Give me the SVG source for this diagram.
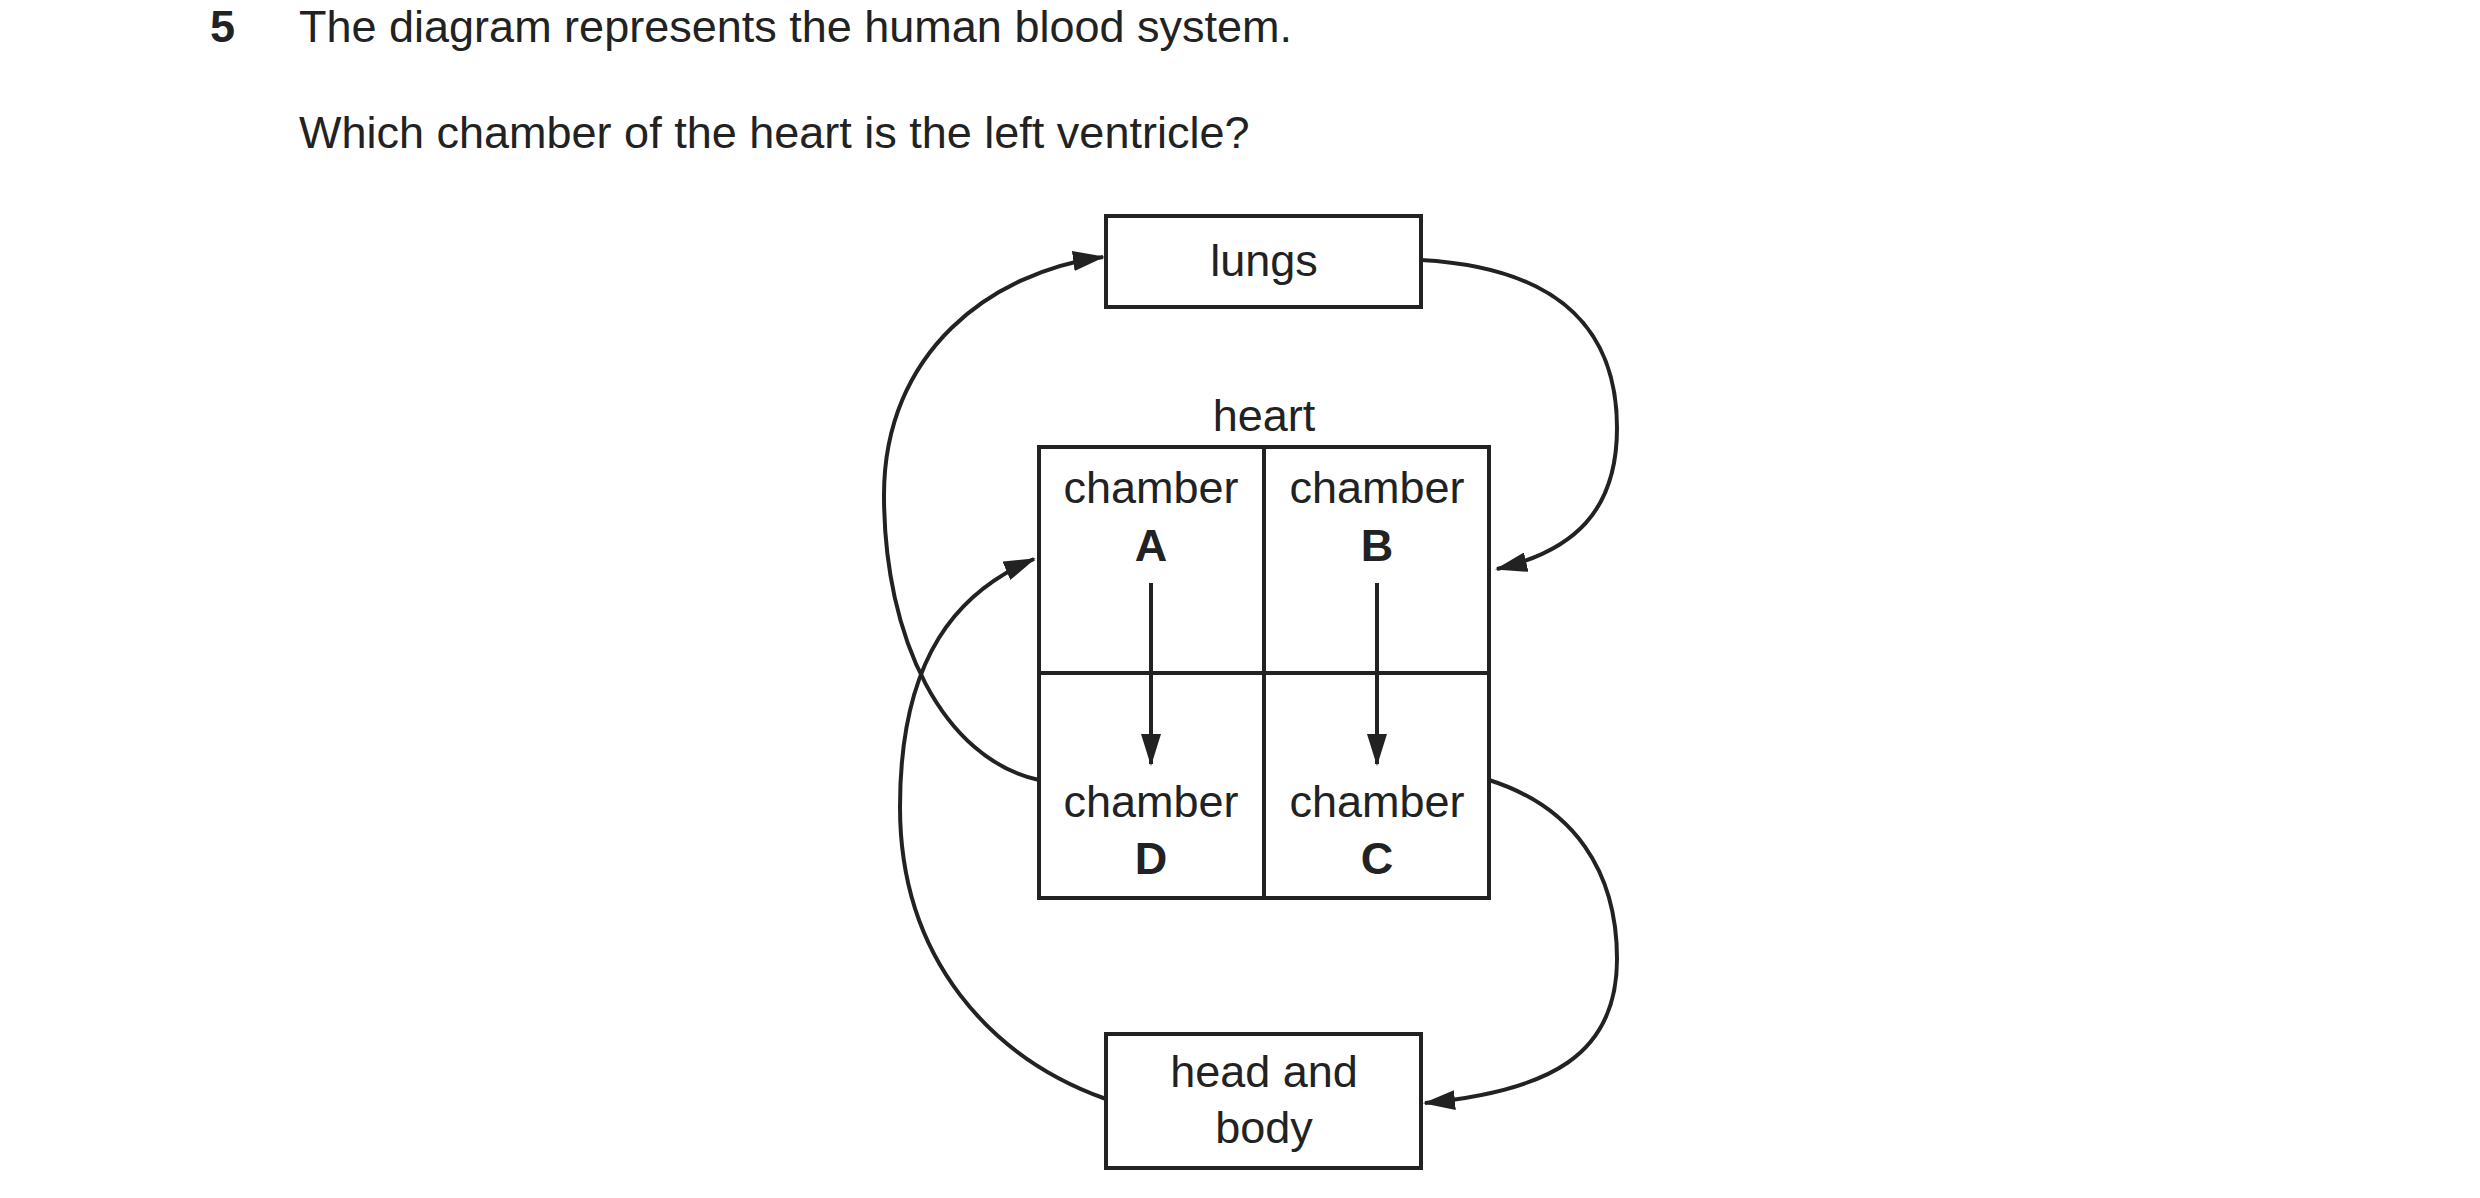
<svg xmlns="http://www.w3.org/2000/svg" width="2480" height="1198" viewBox="0 0 2480 1198">
<style>
text{font-family:"Liberation Sans",Arial,sans-serif;fill:#222;font-size:45px}
.c{text-anchor:middle}
.b{font-weight:bold}
.box{fill:#fff;stroke:#222;stroke-width:4}
.ln{fill:none;stroke:#222;stroke-width:4}
</style>
<defs>
<marker id="ah" viewBox="0 0 10 10" refX="9" refY="5" markerWidth="8" markerHeight="6" markerUnits="userSpaceOnUse" orient="auto" style="overflow:visible">
<path d="M0,0 L10,5 L0,10 Z" fill="#222" transform="scale(3.2,2)"/>
</marker>
<marker id="a" viewBox="0 0 32 20" refX="30" refY="10" markerWidth="32" markerHeight="20" markerUnits="userSpaceOnUse" orient="auto">
<path d="M0,0 L32,10 L0,20 Z" fill="#222"/>
</marker>
</defs>
<rect width="2480" height="1198" fill="#fff"/>
<text x="210" y="42" class="b">5</text>
<text x="299" y="42">The diagram represents the human blood system.</text>
<text x="299" y="148">Which chamber of the heart is the left ventricle?</text>
<g id="connectors">
<path class="ln" d="M1421,260 C1566,268 1617,336 1617,428 C1617,511 1574,551 1497,569" marker-end="url(#a)"/>
<path class="ln" d="M1039,780 C943,759 884,639 884,495 C884,352 991,272 1103,257" marker-end="url(#a)"/>
<path class="ln" d="M1106,1099 C991,1058 900,959 900,807 C900,655 959,591 1034,559" marker-end="url(#a)"/>
<path class="ln" d="M1489,780 C1574,807 1617,871 1617,959 C1617,1055 1550,1091 1425,1103" marker-end="url(#a)"/>
<path class="ln" d="M1151,583 L1151,764" marker-end="url(#a)"/>
<path class="ln" d="M1377,583 L1377,764" marker-end="url(#a)"/>
</g>
<g id="lungs">
<rect class="box" x="1106" y="216" width="315" height="91"/>
<text x="1264" y="276" class="c">lungs</text>
</g>
<g id="heart">
<text x="1264" y="431" class="c">heart</text>
<rect x="1039" y="447" width="450" height="451" fill="none" stroke="#222" stroke-width="4"/>
<line class="ln" x1="1264" y1="447" x2="1264" y2="898"/>
<line class="ln" x1="1039" y1="673" x2="1489" y2="673"/>
</g>
<g id="chamberA"><text x="1151" y="503" class="c">chamber</text><text x="1151" y="561" class="c b">A</text></g>
<g id="chamberB"><text x="1377" y="503" class="c">chamber</text><text x="1377" y="561" class="c b">B</text></g>
<g id="chamberD"><text x="1151" y="817" class="c">chamber</text><text x="1151" y="874" class="c b">D</text></g>
<g id="chamberC"><text x="1377" y="817" class="c">chamber</text><text x="1377" y="874" class="c b">C</text></g>
<g id="headbody">
<rect class="box" x="1106" y="1034" width="315" height="134"/>
<text x="1264" y="1087" class="c">head and</text>
<text x="1264" y="1143" class="c">body</text>
</g>
</svg>
